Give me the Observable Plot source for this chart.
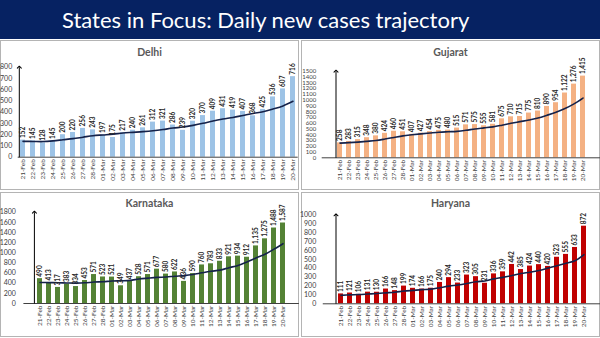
<!DOCTYPE html>
<html>
<head>
<meta charset="utf-8">
<script src="https://cdn.jsdelivr.net/npm/d3@7"></script>
<script src="https://cdn.jsdelivr.net/npm/@observablehq/plot@0.6"></script>
<style>
  body { margin:0; width:600px; height:338px; position:relative; background:#fff; overflow:hidden; font-family: Lato, "Open Sans", sans-serif; }
  #titlebar { position:absolute; left:0; top:0; width:600px; height:39px; background:#062262; }
  #titlebar span { position:absolute; left:62px; top:0; line-height:39px; color:#fff; font-size:22px; font-family: Lato, sans-serif; white-space:nowrap; }
  .box { position:absolute; box-sizing:border-box; border:1px solid #b4b4b4; }
  .ptitle { position:absolute; width:299px; text-align:center; font-weight:bold; font-size:10.5px; color:#595959; font-family: Lato, sans-serif; }
  .chart { position:absolute; }
  .chart svg { overflow:visible; }
</style>
</head>
<body>
<div id="titlebar"><span>States in Focus: Daily new cases trajectory</span></div>
<div id="root"></div>
<script>
const dates = ["21-Feb","22-Feb","23-Feb","24-Feb","25-Feb","26-Feb","27-Feb","28-Feb",
  "01-Mar","02-Mar","03-Mar","04-Mar","05-Mar","06-Mar","07-Mar","08-Mar","09-Mar","10-Mar",
  "11-Mar","12-Mar","13-Mar","14-Mar","15-Mar","16-Mar","17-Mar","18-Mar","19-Mar","20-Mar"];

const delhi = [152,145,128,145,200,220,256,243,197,175,217,240,261,312,321,286,239,320,370,409,431,419,407,368,425,536,607,716];
const delhiTrend = [141,140,139,145,155,165,178,191,198,205,215,221,227,235,246,259,268,283,301,322,339,353,371,389,404,428,456,497];

const gujarat = [258,283,315,348,380,424,460,451,407,427,454,475,480,515,571,575,555,581,675,710,715,775,810,890,954,1122,1276,1415];
const gujaratTrend = [255,262,272,285,300,325,353,380,398,414,429,443,451,458,476,500,518,536,565,597,626,655,689,737,790,854,935,1035];

const karnataka = [490,413,317,383,334,453,571,523,521,349,437,528,571,677,580,622,436,590,760,783,833,921,934,912,1135,1275,1488,1587];
const karnatakaTrend = [415,412,410,405,402,408,423,428,443,448,455,483,500,515,523,538,550,572,605,635,658,706,751,819,897,970,1071,1179];

const haryana = [111,121,106,131,130,166,148,199,174,166,175,240,294,233,323,305,231,336,359,442,385,424,440,420,523,555,633,872];
const haryanaTrend = [95,100,104,110,116,123,130,143,151,159,165,181,199,212,229,248,257,280,297,318,340,355,374,401,428,456,483,552];

const delhiTicks = [0,100,200,300,400,500,600,700,800];
const gujaratTicks = [0,100,200,300,400,500,600,700,800,900,1000,1100,1200,1300,1400,1500];
const karnatakaTicks = [0,200,400,600,800,1000,1200,1400,1600,1800];
const haryanaTicks = [0,100,200,300,400,500,600,700,800,900,1000];

const panels = [
  {name:"Delhi", values:delhi, trend:delhiTrend, ticks:delhiTicks, color:"#9dc3e6",
   left:0, top:40, h:150, mt:26.7, mb:33.3, ml:17.7, mr:1.3, adx:-3.7, tickPad:6, tickFont:7, titleY:6},
  {name:"Gujarat", values:gujarat, trend:gujaratTrend, ticks:gujaratTicks, color:"#f4b183",
   left:301, top:40, h:150, mt:30.7, mb:32.7, ml:20.7, mr:0, adx:-4, tickPad:6, tickFont:6, titleY:6},
  {name:"Karnataka", values:karnataka, trend:karnatakaTrend, ticks:karnatakaTicks, color:"#548235",
   left:0, top:192, h:146, mt:19.7, mb:35, ml:23.4, mr:0.1, adx:-5.6, tickPad:8, tickFont:7, titleY:5},
  {name:"Haryana", values:haryana, trend:haryanaTrend, ticks:haryanaTicks, color:"#c00000",
   left:301, top:192, h:146, mt:22.3, mb:34.7, ml:21.75, mr:0, adx:-5, tickPad:7, tickFont:7, titleY:5}
];

const root = document.getElementById("root");
const fmt = d3.format(",");

for (const p of panels) {
  const data = dates.map((d, i) => ({date: d, value: p.values[i], trend: p.trend[i]}));
  const ymax = p.ticks[p.ticks.length - 1];

  const box = document.createElement("div");
  box.className = "box";
  box.style.left = p.left + "px";
  box.style.top = p.top + "px";
  box.style.width = "299px";
  box.style.height = (p.top === 40 ? 150 : 145) + "px";
  root.appendChild(box);

  const chart = Plot.plot({
    width: 299, height: p.h,
    marginLeft: p.ml, marginRight: p.mr, marginTop: p.mt, marginBottom: p.mb,
    style: {background: "transparent", fontFamily: "Lato, sans-serif", overflow: "visible"},
    x: {domain: dates, paddingInner: 0.5, paddingOuter: 0.25, label: null},
    y: {domain: [0, ymax], label: null},
    marks: [
      Plot.barY(data, {x: "date", y: "value", fill: p.color}),
      Plot.ruleY([0], {stroke: "#404040", strokeWidth: 1}),
      Plot.link([0], {x1: () => dates[0], x2: () => dates[0], y1: () => 0, y2: () => ymax,
        dx: p.adx, stroke: "#000", strokeWidth: 1, markerEnd: "arrow"}),
      Plot.line(data, {x: "date", y: "trend", curve: "catmull-rom", stroke: "#15224a", strokeWidth: 1.6}),
      Plot.text(data, {x: "date", y: "value", text: d => fmt(d.value), rotate: -90,
        textAnchor: "start", lineAnchor: "middle", dy: -2, fontSize: 6.5, fontWeight: "bold", fill: "#262626"}),
      Plot.axisX({tickSize: 0, tickRotate: -90, tickPadding: 2, fontSize: 6.5, color: "#404040", label: null}),
      Plot.axisY({ticks: p.ticks, tickSize: 0, tickPadding: p.tickPad, tickFormat: d => String(d),
        fontSize: p.tickFont, color: "#404040", label: null})
    ]
  });
  const wrap = document.createElement("div");
  wrap.className = "chart";
  wrap.style.left = p.left + "px";
  wrap.style.top = p.top + "px";
  wrap.appendChild(chart);
  root.appendChild(wrap);

  const t = document.createElement("div");
  t.className = "ptitle";
  t.textContent = p.name;
  t.style.left = p.left + "px";
  t.style.top = (p.top + p.titleY) + "px";
  root.appendChild(t);
}
</script>
</body>
</html>
